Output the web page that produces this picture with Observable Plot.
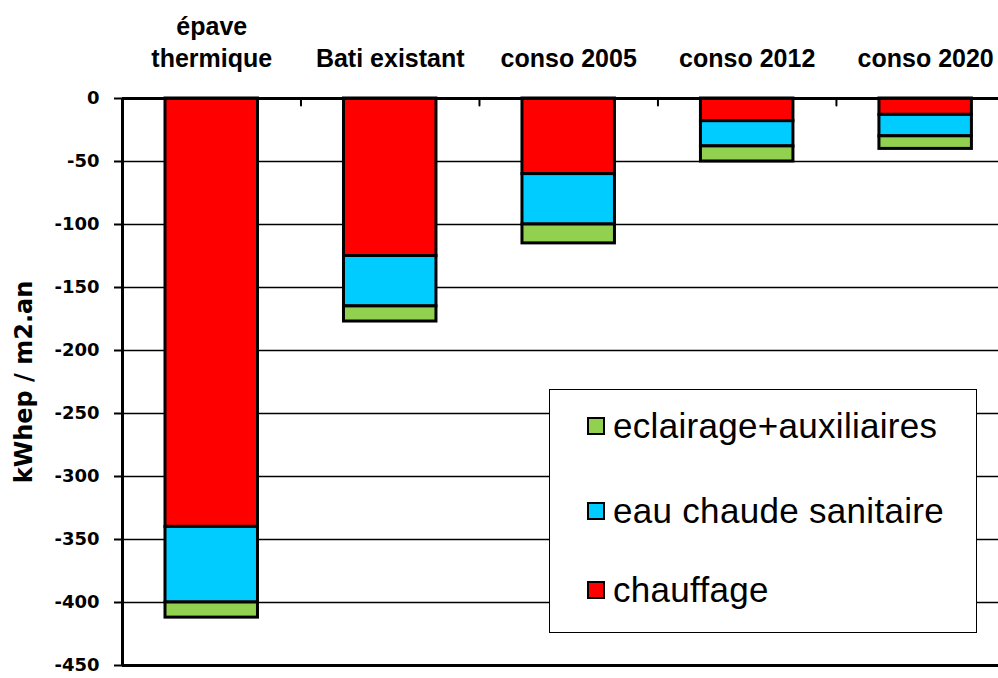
<!DOCTYPE html>
<html>
<head>
<meta charset="utf-8">
<script src="https://cdn.jsdelivr.net/npm/d3@7"></script>
<script src="https://cdn.jsdelivr.net/npm/@observablehq/plot@0.6"></script>
<style>
  html, body { margin: 0; padding: 0; background: #fff; overflow: hidden; }
  #wrap { position: relative; width: 998px; height: 678px; }
  #legend {
    position: absolute; left: 549px; top: 389px; width: 426px; height: 242px;
    background: #fff; border: 1.5px solid #000; box-sizing: content-box;
    font-family: "Liberation Sans", Arial, sans-serif; font-size: 35px; letter-spacing: 0.3px; color: #000;
  }
  .row { position: absolute; left: 37px; display: flex; align-items: center; white-space: nowrap; }
  .sw { width: 14px; height: 14px; border: 2px solid #000; margin-right: 8px; }
</style>
</head>
<body>
<div id="wrap"></div>
<script>
const categories = ["épave\nthermique", "Bati existant", "conso 2005", "conso 2012", "conso 2020"];
const seriesNames = ["chauffage", "eau chaude sanitaire", "eclairage+auxiliaires"];
const seriesColors = ["#FF0000", "#00CCFF", "#92D050"];
const chauffage = [-340, -125, -60, -18, -13];
const eauChaude = [-60, -40, -40, -20, -17];
const eclairage = [-12, -12, -15, -12, -10];
const yTicks = [0, -50, -100, -150, -200, -250, -300, -350, -400, -450];
const yTitle = "kWhep / m2.an";

const values = [chauffage, eauChaude, eclairage];
const rows = [];
seriesNames.forEach((s, k) => {
  categories.forEach((c, i) => rows.push({series: s, cat: c, i0: i, i1: i + 1, value: values[k][i]}));
});
const boundaries = categories.slice(1).map((c, i) => i + 1);
const grid = yTicks.filter(t => t !== 0 && t !== -450);

const chart = Plot.plot({
  width: 998,
  height: 678,
  marginTop: 98,
  marginBottom: 13,
  marginLeft: 122,
  marginRight: 0,
  style: {background: "#fff"},
  x: {domain: [0, 4.908], axis: null},
  y: {domain: [-450, 0], axis: null},
  color: {domain: seriesNames, range: seriesColors},
  marks: [
    Plot.ruleY(grid, {stroke: "#000", strokeWidth: 1.5}),
    Plot.rectY(rows, Plot.stackY({
      x1: "i0", x2: "i1", y: "value", fill: "series",
      stroke: "#000", strokeWidth: 3, insetLeft: 43, insetRight: 43
    })),
    Plot.ruleY([0, -450], {stroke: "#000", strokeWidth: 3}),
    Plot.ruleX([0], {stroke: "#000", strokeWidth: 3}),
    Plot.vector(boundaries, {
      x: d => d, frameAnchor: "top", length: 7, anchor: "start", rotate: 0,
      stroke: "#000", strokeWidth: 2,
      shape: {draw(ctx, l) { ctx.moveTo(0, 0); ctx.lineTo(0, l); }}
    }),
    Plot.axisY({
      ticks: yTicks, tickSize: 8, tickPadding: 15, label: null,
      tickFormat: d => String(d),
      fontSize: 18, fontFamily: "DejaVu Sans", fontWeight: "bold",
      stroke: "#000", strokeWidth: 2, fill: "#000"
    }),
    Plot.text(categories, {
      x: (d, i) => i + 0.5, frameAnchor: "top", lineAnchor: "bottom", dy: -32,
      lineHeight: 1.25, fontSize: 25, fontWeight: "bold",
      fontFamily: "Liberation Sans", fill: "#000"
    }),
    Plot.text([yTitle], {
      frameAnchor: "left", textAnchor: "middle", rotate: -90, dx: -98,
      fontSize: 24, fontWeight: "bold", fontFamily: "DejaVu Sans", fill: "#000"
    })
  ]
});
document.getElementById("wrap").appendChild(chart);

// legend (order as in the reference: bottom series first)
const legend = document.createElement("div");
legend.id = "legend";
const tops = [16, 101, 180];
[2, 1, 0].forEach((k, j) => {
  const r = document.createElement("div");
  r.className = "row";
  r.style.top = tops[j] + "px";
  const sw = document.createElement("div");
  sw.className = "sw";
  sw.style.background = seriesColors[k];
  const t = document.createElement("span");
  t.textContent = seriesNames[k];
  r.appendChild(sw); r.appendChild(t);
  legend.appendChild(r);
});
document.getElementById("wrap").appendChild(legend);
</script>
</body>
</html>
